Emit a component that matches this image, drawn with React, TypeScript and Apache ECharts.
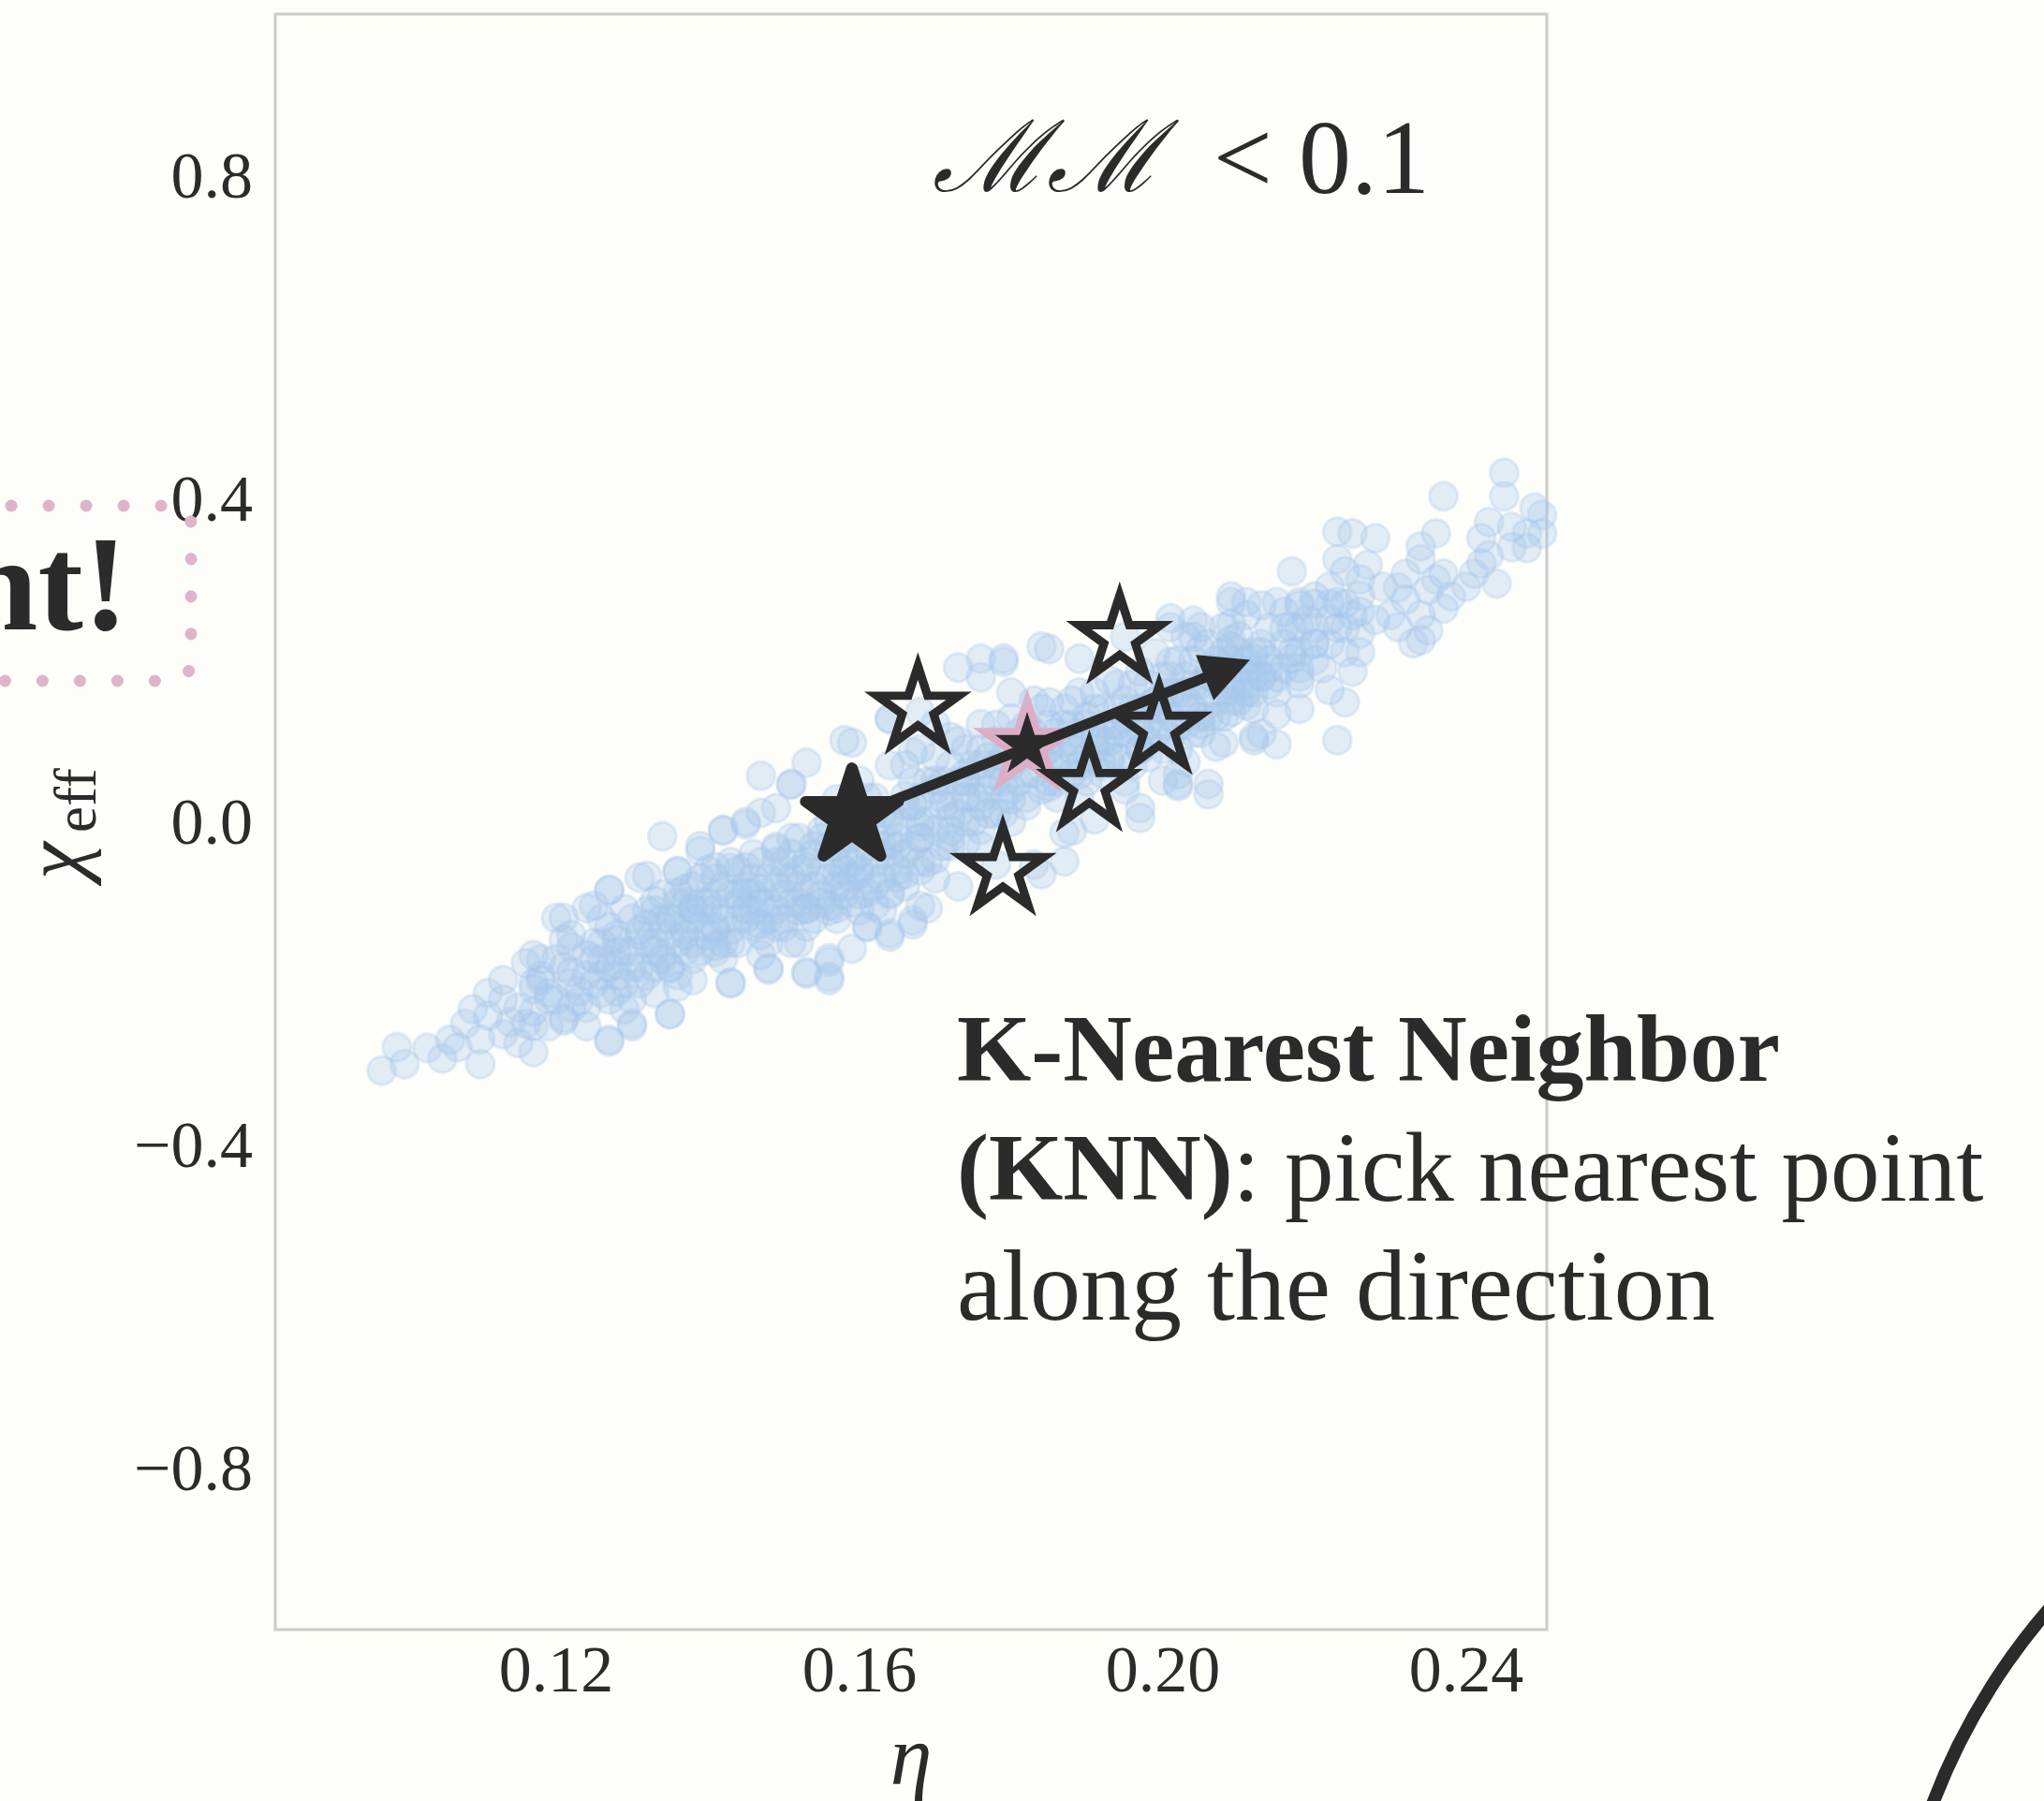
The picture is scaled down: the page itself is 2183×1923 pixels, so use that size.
import React, { useEffect, useRef } from "react";
import * as echarts from "echarts";

// ---------- data ----------
const xTicks = [0.12, 0.16, 0.2, 0.24];
const yTicks = [-0.8, -0.4, 0, 0.4, 0.8];
const xRange = [0.08296, 0.25062];
const yRange = [-1, 1];

// template bank (eta, chi_eff)
const cloudLowerTail: [number, number][] = [
  [0.097, -0.308], [0.099, -0.279], [0.1, -0.3], [0.105, -0.293], [0.107, -0.279], [0.11, -0.3],
  [0.11, -0.269], [0.109, -0.232], [0.111, -0.212], [0.113, -0.196], [0.113, -0.263], [0.114, -0.248],
  [0.116, -0.175], [0.117, -0.285], [0.117, -0.253], [0.118, -0.191], [0.119, -0.212], [0.121, -0.119],
  [0.121, -0.243], [0.122, -0.155], [0.122, -0.186], [0.124, -0.253], [0.125, -0.104], [0.126, -0.212],
  [0.127, -0.085], [0.127, -0.272], [0.128, -0.161], [0.129, -0.232], [0.13, -0.253], [0.131, -0.134],
  [0.132, -0.067], [0.133, -0.212], [0.134, -0.018], [0.135, -0.238], [0.135, -0.181], [0.136, -0.062],
  [0.138, -0.196], [0.139, -0.036], [0.138, -0.108], [0.142, -0.01], [0.143, -0.199], [0.143, -0.134],
  [0.145, 0.0], [0.147, 0.057], [0.147, -0.083], [0.148, -0.181], [0.151, 0.047], [0.153, 0.073],
  [0.153, -0.186], [0.151, -0.15], [0.129, -0.108], [0.133, -0.15], [0.137, -0.134], [0.141, -0.056],
  [0.141, -0.161], [0.145, -0.108], [0.145, -0.056], [0.149, -0.031], [0.149, -0.108], [0.153, -0.056],
  [0.153, -0.108], [0.137, -0.083], [0.133, -0.098], [0.126, -0.15], [0.117, -0.207], [0.123, -0.222],
  [0.147, 0.011], [0.141, -0.108], [0.119, -0.253], [0.115, -0.274],
];

const cloudLowerMid: [number, number][] = [
  [0.158, 0.101], [0.159, 0.098], [0.164, 0.127], [0.151, 0.046], [0.142, -0.011], [0.145, -0.003],
  [0.139, -0.03], [0.136, -0.061], [0.131, -0.069], [0.127, -0.084], [0.124, -0.107], [0.12, -0.119],
  [0.121, -0.146], [0.117, -0.165], [0.118, -0.196], [0.117, -0.235], [0.121, -0.246], [0.127, -0.27],
  [0.13, -0.25], [0.135, -0.238], [0.136, -0.204], [0.143, -0.2], [0.148, -0.183], [0.153, -0.188],
  [0.156, -0.196], [0.156, -0.173], [0.159, -0.157], [0.161, -0.13], [0.164, -0.138], [0.167, -0.122],
  [0.152, -0.15], [0.147, -0.165], [0.141, -0.154], [0.134, -0.165], [0.128, -0.177], [0.132, -0.127],
  [0.138, -0.107], [0.145, -0.088], [0.151, -0.069], [0.157, -0.049], [0.163, -0.03], [0.143, -0.057],
  [0.149, -0.034], [0.155, -0.011], [0.165, -0.069], [0.161, -0.088], [0.153, -0.107], [0.147, -0.127],
  [0.141, -0.135], [0.128, -0.146], [0.124, -0.165], [0.136, -0.088], [0.157, 0.028], [0.149, 0.017],
  [0.167, 0.02], [0.167, 0.086],
];

const cloudCentre: [number, number][] = [
  [0.173, 0.191], [0.176, 0.202], [0.179, 0.202], [0.184, 0.217], [0.176, 0.179], [0.164, 0.128],
  [0.168, 0.136], [0.17, 0.121], [0.18, 0.16], [0.189, 0.202], [0.201, 0.252], [0.204, 0.249],
  [0.209, 0.279], [0.211, 0.272], [0.203, 0.229], [0.206, 0.034], [0.197, 0.017], [0.2, 0.051],
  [0.202, 0.059], [0.195, 0.04], [0.187, -0.014], [0.187, -0.049], [0.184, -0.065], [0.178, -0.053],
  [0.16, 0.051], [0.164, 0.07], [0.168, 0.09], [0.172, 0.105], [0.176, 0.121], [0.18, 0.128],
  [0.185, 0.148], [0.189, 0.16], [0.193, 0.175], [0.197, 0.186], [0.201, 0.198], [0.205, 0.214],
  [0.209, 0.225], [0.162, 0.012], [0.166, 0.032], [0.17, 0.051], [0.174, 0.051], [0.178, 0.07],
  [0.183, 0.082], [0.187, 0.098], [0.191, 0.109], [0.195, 0.128], [0.199, 0.148], [0.203, 0.16],
  [0.207, 0.175], [0.211, 0.186], [0.164, -0.026], [0.168, -0.006], [0.172, 0.005], [0.176, 0.02],
  [0.18, 0.028], [0.185, 0.043], [0.189, 0.059], [0.193, 0.074], [0.197, 0.09], [0.201, 0.105],
  [0.205, 0.121], [0.209, 0.136], [0.213, 0.109], [0.166, -0.065], [0.17, -0.046], [0.174, -0.026],
  [0.16, -0.065], [0.162, -0.104], [0.156, -0.104], [0.168, -0.104], [0.157, -0.065],
  [0.202, 0.044], [0.197, 0.005], [0.191, 0.003], [0.188, -0.011], [0.183, -0.053], [0.169, -0.107],
  [0.167, -0.127], [0.164, -0.142], [0.161, -0.13], [0.156, -0.169], [0.156, -0.192], [0.173, -0.08],
  [0.176, -0.03], [0.159, -0.069], [0.164, -0.088], [0.168, -0.049], [0.172, -0.011], [0.157, -0.107],
  [0.179, 0.198], [0.185, 0.214], [0.209, 0.245], [0.209, 0.217], [0.195, 0.229], [0.199, 0.209],
  [0.212, 0.101], [0.207, 0.093], [0.203, 0.074], [0.206, 0.047],
];

const cloudUpperTail: [number, number][] = [
  [0.245, 0.432], [0.237, 0.403], [0.245, 0.403], [0.249, 0.389], [0.25, 0.357], [0.248, 0.339],
  [0.246, 0.365], [0.243, 0.371], [0.242, 0.351], [0.243, 0.33], [0.244, 0.295], [0.241, 0.307],
  [0.236, 0.357], [0.234, 0.341], [0.234, 0.325], [0.237, 0.307], [0.238, 0.279], [0.237, 0.264],
  [0.235, 0.287], [0.232, 0.307], [0.232, 0.275], [0.234, 0.256], [0.235, 0.237], [0.234, 0.225],
  [0.233, 0.221], [0.231, 0.241], [0.229, 0.291], [0.228, 0.351], [0.225, 0.357], [0.223, 0.359],
  [0.223, 0.325], [0.224, 0.31], [0.222, 0.291], [0.223, 0.272], [0.225, 0.256], [0.226, 0.233],
  [0.226, 0.21], [0.225, 0.186], [0.224, 0.148], [0.223, 0.101], [0.222, 0.163], [0.218, 0.171],
  [0.218, 0.14], [0.217, 0.31], [0.218, 0.268], [0.217, 0.241], [0.22, 0.221], [0.217, 0.202],
  [0.215, 0.179], [0.215, 0.133], [0.215, 0.096], [0.212, 0.105], [0.208, 0.098], [0.202, 0.047],
  [0.209, 0.272], [0.211, 0.256], [0.213, 0.268], [0.215, 0.272], [0.218, 0.272], [0.208, 0.241],
  [0.205, 0.241], [0.204, 0.229], [0.201, 0.241], [0.212, 0.202], [0.213, 0.179], [0.209, 0.163],
  [0.211, 0.144], [0.22, 0.279], [0.23, 0.256], [0.227, 0.318], [0.24, 0.291], [0.248, 0.357],
  [0.25, 0.38],
];

const cloudCore: [number, number][] = [
  [0.121, -0.18], [0.123, -0.21], [0.125, -0.17], [0.127, -0.13], [0.128, -0.19], [0.13, -0.16],
  [0.132, -0.11], [0.133, -0.18], [0.135, -0.14], [0.136, -0.1], [0.137, -0.16], [0.139, -0.07],
  [0.139, -0.13], [0.141, -0.09], [0.142, -0.15], [0.143, -0.05], [0.144, -0.12], [0.146, -0.07],
  [0.147, -0.14], [0.148, -0.1], [0.149, -0.05], [0.15, -0.12], [0.151, -0.02], [0.152, -0.08],
  [0.153, -0.13], [0.154, -0.04], [0.155, -0.09], [0.156, 0.0], [0.157, -0.12], [0.158, -0.06],
  [0.159, -0.02], [0.16, -0.09], [0.161, 0.03], [0.162, -0.05], [0.163, -0.11], [0.164, 0.01],
  [0.165, -0.03], [0.166, -0.08], [0.167, 0.05], [0.168, 0.0], [0.169, -0.05], [0.17, 0.08],
  [0.171, 0.02], [0.172, -0.03], [0.173, 0.1], [0.174, 0.06], [0.175, 0.0], [0.176, 0.09],
  [0.177, 0.04], [0.178, 0.12], [0.179, 0.01], [0.18, 0.07], [0.181, 0.11], [0.182, 0.03],
  [0.183, 0.15], [0.184, 0.08], [0.185, 0.12], [0.186, 0.05], [0.187, 0.14], [0.188, 0.09],
  [0.189, 0.03], [0.19, 0.12], [0.191, 0.16], [0.192, 0.07], [0.193, 0.1], [0.194, 0.14],
  [0.195, 0.05], [0.196, 0.17], [0.197, 0.11], [0.198, 0.08], [0.199, 0.15], [0.2, 0.12],
  [0.201, 0.18], [0.202, 0.09], [0.203, 0.14], [0.204, 0.2], [0.205, 0.11], [0.206, 0.16],
  [0.207, 0.13], [0.208, 0.19], [0.209, 0.15], [0.21, 0.21], [0.211, 0.17], [0.212, 0.14],
  [0.213, 0.22], [0.214, 0.19], [0.215, 0.16], [0.216, 0.24], [0.217, 0.21], [0.218, 0.18],
  [0.219, 0.25], [0.22, 0.22], [0.221, 0.19], [0.222, 0.27], [0.223, 0.24], [0.224, 0.21],
  [0.226, 0.28], [0.228, 0.25], [0.231, 0.29], [0.236, 0.3], [0.242, 0.32], [0.246, 0.34],
  [0.103, -0.28], [0.106, -0.27], [0.108, -0.25], [0.111, -0.24], [0.113, -0.22], [0.115, -0.23],
  [0.117, -0.2], [0.119, -0.22], [0.118, -0.17], [0.116, -0.25], [0.122, -0.23],
  [0.126, -0.19], [0.131, -0.2], [0.134, -0.12], [0.138, -0.15], [0.14, -0.11], [0.144, -0.09],
  [0.146, -0.11], [0.15, -0.07], [0.152, -0.1], [0.155, -0.06], [0.158, -0.09], [0.16, -0.04],
  [0.163, -0.07], [0.165, 0.0], [0.168, -0.02], [0.171, 0.05], [0.174, 0.03], [0.177, 0.08],
  [0.179, 0.05], [0.182, 0.1], [0.185, 0.07], [0.188, 0.12], [0.191, 0.09], [0.194, 0.11],
  [0.197, 0.14], [0.2, 0.16], [0.203, 0.12], [0.206, 0.18], [0.21, 0.17],
];

const cloudDenseBand: [number, number][] = [
  [0.12, -0.22], [0.12, -0.17], [0.122, -0.2], [0.122, -0.14], [0.124, -0.19], [0.124, -0.23],
  [0.126, -0.17], [0.126, -0.12], [0.128, -0.21], [0.128, -0.14], [0.13, -0.18], [0.13, -0.12],
  [0.13, -0.22], [0.132, -0.15], [0.132, -0.19], [0.134, -0.13], [0.134, -0.17], [0.134, -0.09],
  [0.136, -0.15], [0.136, -0.19], [0.136, -0.12], [0.138, -0.12], [0.138, -0.17], [0.138, -0.08],
  [0.14, -0.14], [0.14, -0.1], [0.14, -0.06], [0.142, -0.12], [0.142, -0.08], [0.142, -0.17],
  [0.144, -0.1], [0.144, -0.15], [0.144, -0.06], [0.146, -0.13], [0.146, -0.09], [0.146, -0.04],
  [0.148, -0.12], [0.148, -0.07], [0.148, -0.15], [0.15, -0.09], [0.15, -0.05], [0.15, -0.13],
  [0.152, -0.11], [0.152, -0.06], [0.152, -0.02], [0.154, -0.08], [0.154, -0.12], [0.154, -0.03],
  [0.156, -0.07], [0.156, -0.03], [0.156, -0.11], [0.158, -0.08], [0.158, -0.04], [0.158, 0.01],
  [0.16, -0.06], [0.16, -0.01], [0.16, -0.11], [0.162, -0.08], [0.162, -0.02], [0.162, 0.03],
  [0.164, -0.05], [0.164, 0.0], [0.164, -0.09], [0.166, -0.04], [0.166, 0.02], [0.166, 0.07],
  [0.168, -0.06], [0.168, 0.03], [0.168, -0.02], [0.17, -0.01], [0.17, 0.04], [0.17, -0.07],
  [0.172, 0.02], [0.172, 0.07], [0.172, -0.02], [0.174, 0.0], [0.174, 0.05], [0.174, 0.09],
  [0.176, 0.03], [0.176, 0.07], [0.176, -0.01], [0.178, 0.01], [0.178, 0.05], [0.178, 0.1],
  [0.18, 0.04], [0.18, 0.09], [0.18, 0.0], [0.182, 0.06], [0.182, 0.12], [0.182, 0.02],
  [0.184, 0.04], [0.184, 0.1], [0.184, 0.14], [0.186, 0.07], [0.186, 0.11], [0.186, 0.03],
  [0.188, 0.06], [0.188, 0.1], [0.188, 0.15], [0.19, 0.08], [0.19, 0.13], [0.19, 0.05],
  [0.192, 0.1], [0.192, 0.14], [0.192, 0.06], [0.194, 0.08], [0.194, 0.12], [0.194, 0.17],
  [0.196, 0.1], [0.196, 0.14], [0.196, 0.07], [0.198, 0.12], [0.198, 0.17], [0.198, 0.1],
  [0.2, 0.14], [0.2, 0.09], [0.2, 0.18], [0.202, 0.12], [0.202, 0.16], [0.202, 0.2],
  [0.204, 0.14], [0.204, 0.17], [0.204, 0.11], [0.206, 0.13], [0.206, 0.19], [0.206, 0.22],
  [0.208, 0.16], [0.208, 0.21], [0.208, 0.13], [0.21, 0.15], [0.21, 0.19], [0.21, 0.23],
  [0.212, 0.18], [0.212, 0.21], [0.212, 0.16], [0.214, 0.2], [0.214, 0.17], [0.214, 0.24],
  [0.216, 0.19], [0.216, 0.22], [0.216, 0.26], [0.218, 0.21], [0.218, 0.24], [0.218, 0.19],
  [0.22, 0.24], [0.22, 0.2], [0.22, 0.27], [0.222, 0.22], [0.222, 0.25], [0.224, 0.24],
  [0.224, 0.27], [0.226, 0.26], [0.226, 0.3],
];

const cloudDenseBand2: [number, number][] = [
  [0.125, -0.2], [0.125, -0.15], [0.127, -0.18], [0.127, -0.22], [0.129, -0.16], [0.129, -0.2],
  [0.131, -0.14], [0.131, -0.18], [0.133, -0.16], [0.133, -0.11], [0.135, -0.18], [0.135, -0.12],
  [0.137, -0.14], [0.137, -0.1], [0.139, -0.16], [0.139, -0.1], [0.141, -0.13], [0.141, -0.07],
  [0.143, -0.15], [0.143, -0.09], [0.145, -0.12], [0.145, -0.08], [0.147, -0.1], [0.147, -0.05],
  [0.149, -0.13], [0.149, -0.08], [0.151, -0.1], [0.151, -0.04], [0.153, -0.09], [0.153, -0.05],
  [0.155, -0.1], [0.155, -0.02], [0.157, -0.08], [0.157, -0.03], [0.159, -0.05], [0.159, -0.1],
  [0.161, -0.07], [0.161, -0.03], [0.163, -0.04], [0.163, 0.01], [0.165, -0.06], [0.165, -0.02],
  [0.167, -0.03], [0.167, 0.02], [0.169, 0.0], [0.169, 0.05], [0.171, -0.03], [0.171, 0.03],
  [0.173, 0.01], [0.173, 0.05], [0.175, 0.03], [0.175, 0.07], [0.177, 0.01], [0.177, 0.06],
  [0.179, 0.03], [0.179, 0.08], [0.181, 0.05], [0.181, 0.09], [0.183, 0.06], [0.183, 0.11],
  [0.185, 0.05], [0.185, 0.09], [0.187, 0.08], [0.187, 0.12], [0.189, 0.07], [0.189, 0.11],
  [0.191, 0.1], [0.191, 0.14], [0.193, 0.08], [0.193, 0.12], [0.195, 0.11], [0.195, 0.15],
  [0.197, 0.09], [0.197, 0.13], [0.199, 0.11], [0.199, 0.14], [0.201, 0.13], [0.201, 0.16],
  [0.203, 0.15], [0.203, 0.18], [0.205, 0.13], [0.205, 0.17], [0.207, 0.15], [0.207, 0.2],
  [0.209, 0.17], [0.209, 0.2], [0.211, 0.16], [0.211, 0.2], [0.213, 0.18], [0.213, 0.21],
];

// neighbours (open stars), query (filled), picked (pink) and direction arrow
const neighborEta = [0.1677, 0.1943, 0.1995, 0.1903, 0.1789];
const neighborChi = [0.1397, 0.227, 0.115, 0.044, -0.06];
const queryPoint: [number, number] = [0.159, 0.0064];
const pickedPoint: [number, number] = [0.1821, 0.0945];
const arrowHeadPoint: [number, number] = [0.2085, 0.1896];

const knnLines = ["K-Nearest Neighbor", "(KNN)", ": pick nearest point", "along the direction"];

// ---------- styles ----------
const INK = "#2b2b2b";
const PINK = "#dcaec6";
const DOTPINK = "#dfb4ca";
const BG = "#fdfdf9";
const DOT = "rgba(166,198,235,0.3)";
const SERIF = '"Liberation Serif", "Times New Roman", serif';

const STAR_PATH =
  "path://M0 -100 L22.45 -30.9 L95.11 -30.9 L36.33 11.8 L58.78 80.9 L0 38.2 L-58.78 80.9 L-36.33 11.8 L-95.11 -30.9 L-22.45 -30.9 Z";

function star(R: number) {
  return {
    symbol: STAR_PATH,
    symbolSize: [1.9022 * R, 1.809 * R],
    symbolOffset: [0, -0.0955 * R],
  };
}

const fmtY = (v: number) => (v < 0 ? "\u2212" : "") + Math.abs(v).toFixed(1);
const fmtX = (v: number) => v.toFixed(2);

export default function App() {
  const ref = useRef<HTMLDivElement>(null);

  useEffect(() => {
    document.body.style.margin = "0";
    document.body.style.background = BG;
    const chart = echarts.init(ref.current!, null, { renderer: "svg" });
    const cloud = [
      ...cloudLowerTail,
      ...cloudLowerMid,
      ...cloudCentre,
      ...cloudUpperTail,
      ...cloudCore,
      ...cloudDenseBand,
      ...cloudDenseBand2,
    ];
    const neighbors = neighborEta.map((x, i) => [x, neighborChi[i]]);

    chart.setOption({
      animation: false,
      backgroundColor: BG,
      grid: {
        left: 294,
        top: 15,
        width: 1358,
        height: 1725,
        show: true,
        borderColor: "#cccccc",
        borderWidth: 3,
        backgroundColor: "transparent",
      },
      xAxis: {
        type: "value",
        min: xRange[0],
        max: xRange[1],
        axisLine: { show: false },
        axisTick: { show: false },
        splitLine: { show: false },
        axisLabel: {
          customValues: xTicks,
          formatter: fmtX,
          color: INK,
          fontFamily: SERIF,
          fontSize: 70,
          margin: 7,
        },
      },
      yAxis: {
        type: "value",
        min: yRange[0],
        max: yRange[1],
        axisLine: { show: false },
        axisTick: { show: false },
        splitLine: { show: false },
        axisLabel: {
          customValues: yTicks,
          formatter: fmtY,
          color: INK,
          fontFamily: SERIF,
          fontSize: 70,
          margin: 24,
        },
      },
      series: [
        {
          type: "scatter",
          data: cloud,
          symbol: "circle",
          symbolSize: 30,
          itemStyle: { color: DOT, borderColor: DOT, borderWidth: 3, opacity: 1 },
          silent: true,
          z: 1,
        },
        {
          type: "scatter",
          data: [pickedPoint],
          ...star(61),
          itemStyle: { color: PINK, opacity: 1 },
          silent: true,
          z: 2,
        },
        {
          type: "scatter",
          data: neighbors,
          ...star(46),
          itemStyle: {
            color: "rgba(0,0,0,0)",
            borderColor: INK,
            borderWidth: 9,
            borderJoin: "miter",
            borderMiterLimit: 10,
            opacity: 1,
          },
          silent: true,
          z: 3,
        },
        {
          type: "lines",
          coordinateSystem: "cartesian2d",
          data: [{ coords: [queryPoint, arrowHeadPoint] }],
          symbol: ["none", "triangle"],
          symbolSize: 52,
          lineStyle: { color: INK, width: 11, opacity: 1, curveness: 0 },
          silent: true,
          z: 4,
        },
        {
          type: "scatter",
          data: [pickedPoint],
          ...star(36),
          itemStyle: { color: INK, opacity: 1 },
          silent: true,
          z: 5,
        },
        {
          type: "scatter",
          data: [queryPoint],
          ...star(52),
          itemStyle: {
            color: INK,
            borderColor: INK,
            borderWidth: 12,
            borderJoin: "round",
            opacity: 1,
          },
          silent: true,
          z: 6,
        },
      ],
      graphic: [
        {
          type: "rect",
          shape: { x: -300, y: 540, width: 504, height: 187, r: 20 },
          style: {
            fill: "none",
            stroke: DOTPINK,
            lineWidth: 13,
            lineDash: [0.1, 39.9],
            lineDashOffset: 28,
            lineCap: "round",
          },
          silent: true,
          z: 10,
        },
        {
          type: "text",
          x: 137,
          y: 623,
          style: {
            text: "nt!",
            fill: INK,
            fontFamily: SERIF,
            fontWeight: "bold",
            fontSize: 145,
            align: "right",
            textAlign: "right",
            verticalAlign: "middle",
            textVerticalAlign: "middle",
          },
          silent: true,
          z: 10,
        },
        {
          type: "circle",
          shape: { cx: 2712, cy: 2172, r: 693 },
          style: { fill: "none", stroke: INK, lineWidth: 14 },
          silent: true,
          z: 10,
        },
        {
          type: "text",
          x: 1527,
          y: 168,
          style: {
            text: "{m|\u2133\u2133}{t|  < 0.1}",
            fill: INK,
            align: "right",
            textAlign: "right",
            verticalAlign: "middle",
            textVerticalAlign: "middle",
            rich: {
              m: { fontFamily: SERIF, fontStyle: "italic", fontSize: 106, fill: INK },
              t: { fontFamily: SERIF, fontSize: 112, fill: INK },
            },
          },
          silent: true,
          z: 10,
        },
        {
          type: "text",
          x: 1022,
          y: 1119,
          style: {
            text: knnLines[0],
            fill: INK,
            fontFamily: SERIF,
            fontWeight: "bold",
            fontSize: 102,
            align: "left",
            textAlign: "left",
            verticalAlign: "middle",
            textVerticalAlign: "middle",
          },
          silent: true,
          z: 10,
        },
        {
          type: "text",
          x: 1022,
          y: 1246,
          style: {
            text: "{b|" + knnLines[1] + "}{r|" + knnLines[2] + "}",
            fill: INK,
            align: "left",
            textAlign: "left",
            verticalAlign: "middle",
            textVerticalAlign: "middle",
            rich: {
              b: { fontFamily: SERIF, fontWeight: "bold", fontSize: 102, fill: INK },
              r: { fontFamily: SERIF, fontSize: 105, fill: INK },
            },
          },
          silent: true,
          z: 10,
        },
        {
          type: "text",
          x: 1022,
          y: 1372,
          style: {
            text: knnLines[3],
            fill: INK,
            fontFamily: SERIF,
            fontSize: 108,
            align: "left",
            textAlign: "left",
            verticalAlign: "middle",
            textVerticalAlign: "middle",
          },
          silent: true,
          z: 10,
        },
        {
          type: "text",
          x: 973,
          y: 1874,
          style: {
            text: "\u03b7",
            fill: INK,
            fontFamily: SERIF,
            fontStyle: "italic",
            fontSize: 90,
            align: "center",
            textAlign: "center",
            verticalAlign: "middle",
            textVerticalAlign: "middle",
          },
          silent: true,
          z: 10,
        },
        {
          type: "group",
          x: 77,
          y: 877,
          rotation: Math.PI / 2,
          silent: true,
          z: 10,
          children: [
            {
              type: "text",
              x: -62,
              y: -19,
              style: {
                text: "\u03c7",
                fill: INK,
                fontFamily: SERIF,
                fontStyle: "italic",
                fontSize: 90,
                align: "left",
                textAlign: "left",
                verticalAlign: "middle",
                textVerticalAlign: "middle",
              },
            },
            {
              type: "text",
              x: -12,
              y: 4,
              style: {
                text: "eff",
                fill: INK,
                fontFamily: SERIF,
                fontSize: 63,
                align: "left",
                textAlign: "left",
                verticalAlign: "middle",
                textVerticalAlign: "middle",
              },
            },
          ],
        },
      ],
    });
    return () => chart.dispose();
  }, []);

  return (
    <div
      ref={ref}
      style={{ position: "absolute", left: 0, top: 0, width: 2183, height: 1923, background: BG }}
    />
  );
}
